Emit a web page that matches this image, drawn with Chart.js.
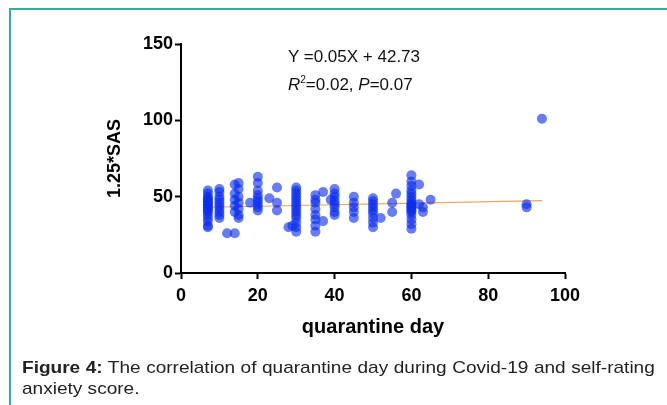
<!DOCTYPE html>
<html>
<head>
<meta charset="utf-8">
<script src="https://cdn.jsdelivr.net/npm/chart.js@4/dist/chart.umd.min.js"></script>
<style>
  html, body { margin: 0; padding: 0; background: #fff; }
  body { width: 667px; height: 405px; position: relative; overflow: hidden; font-family: "Liberation Sans", Arial, Helvetica, sans-serif; }
  #myChart { position: absolute; left: 0; top: 0; }
  .frame { position: absolute; left: 9px; top: 8px; width: 700px; height: 420px; border-top: 2px solid #2bb19d; border-left: 2px solid #2bb19d; }
  .note { position: absolute; left: 288px; font-size: 17px; line-height: 20px; color: #111; white-space: nowrap; }
  .note sup { font-size: 10px; line-height: 0; }
  .caption { position: absolute; left: 22px; top: 357px; width: 565px; font-size: 17px; line-height: 21px; color: #222;
             text-align: justify; transform: scaleX(1.12); transform-origin: 0 0; }
</style>
</head>
<body>
<div class="frame"></div>
<canvas id="myChart" width="667" height="405"></canvas>
<div class="note" style="top:47px">Y =0.05X + 42.73</div>
<div class="note" style="top:75px"><i>R</i><sup>2</sup>=0.02, <i>P</i>=0.07</div>
<div class="caption"><b>Figure 4:</b> The correlation of quarantine day during Covid-19 and self-rating anxiety score.</div>
<script>
// data block: one entry per respondent
const quarantineDay = [
  7, 7, 7, 7, 7, 7, 7, 7, 7, 7, 7, 7, 7, 7, 7, 7, 7, 7,
  10, 10, 10, 10, 10, 10, 10, 10, 10, 10,
  12, 14,
  14, 14, 14, 14, 14, 15, 15, 15, 15, 15, 15, 15,
  18,
  20, 20, 20, 20, 20, 20, 20, 20, 20,
  23, 25, 25, 25, 28, 29,
  30, 30, 30, 30, 30, 30, 30, 30, 30, 30, 30, 30, 30, 30,
  35, 35, 35, 35, 35, 35, 35, 35,
  37, 37,
  39, 40, 40, 40, 40, 40, 40, 40, 40,
  45, 45, 45, 45, 45,
  50, 50, 50, 50, 50, 50, 50, 50, 50,
  52, 55, 55, 56,
  60, 60, 60, 60, 60, 60, 60, 60, 60, 60, 60, 60, 60, 60, 60, 60, 60, 60,
  62, 62, 63, 63, 65,
  90, 90,
  94
];
const sasScore = [
  54, 52, 50, 49, 48, 47, 46, 45, 44, 43, 42, 41, 40, 38, 36, 34, 31, 30,
  55, 53, 50, 48, 46, 44, 42, 40, 38, 36,
  26, 26,
  58, 52, 48, 44, 40, 59, 55, 50, 46, 42, 38, 36,
  46,
  63, 59, 54, 51, 49, 47, 45, 43, 41,
  49, 56, 46, 41, 30, 31,
  56, 54, 52, 50, 48, 46, 44, 42, 40, 38, 36, 33, 30, 27,
  51, 48, 46, 42, 38, 35, 31, 27,
  53, 34,
  48, 55, 52, 50, 47, 45, 43, 40, 38,
  50, 46, 43, 40, 36,
  49, 47, 45, 43, 41, 39, 36, 33, 30,
  36, 46, 40, 52,
  64, 60, 57, 54, 52, 50, 48, 46, 45, 44, 43, 42, 41, 40, 38, 35, 32, 29,
  58, 45, 43, 40, 48,
  45, 43,
  101
];
// fitted line end points (Y = 0.05X + 42.73)
const fitDay = [7, 94];
const fitScore = [43.08, 47.43];

const xTicks = [0, 20, 40, 60, 80, 100];
const yTicks = [0, 50, 100, 150];

const points = quarantineDay.map((d, i) => ({ x: d, y: sasScore[i] }));
const fitLine = fitDay.map((d, i) => ({ x: d, y: fitScore[i] }));

const tickFont = { family: "'Liberation Sans', Arial, sans-serif", size: 18, weight: 'bold' };

const config = {
  type: 'scatter',
  data: {
    datasets: [{
      label: '1.25*SAS',
      data: points,
      backgroundColor: 'rgba(10, 45, 240, 0.62)',
      borderWidth: 0,
      pointRadius: 5,
      order: 1
    }, {
      type: 'line',
      label: 'fit',
      data: fitLine,
      borderColor: '#f2a35a',
      borderWidth: 1.2,
      pointRadius: 0,
      fill: false,
      order: 2
    }]
  },
  options: {
    responsive: false,
    animation: false,
    devicePixelRatio: 1,
    layout: { padding: { left: 104, top: 44, right: 102, bottom: 66 } },
    plugins: { legend: { display: false }, tooltip: { enabled: false } },
    scales: {
      x: {
        type: 'linear',
        min: 0, max: 100,
        afterBuildTicks: s => { s.ticks = xTicks.map(v => ({ value: v })); },
        afterFit: s => { s.height = 66; },
        grid: { drawOnChartArea: false, drawTicks: true, tickLength: 6, tickWidth: 2, tickColor: '#000' },
        border: { display: true, color: '#000', width: 2 },
        ticks: { color: '#000', font: tickFont, padding: 6, maxRotation: 0 },
        title: { display: true, text: 'quarantine day', color: '#000', padding: 0,
                 font: { family: "'Liberation Sans', Arial, sans-serif", size: 20, weight: 'bold' } }
      },
      y: {
        type: 'linear',
        min: 0, max: 150,
        afterBuildTicks: s => { s.ticks = yTicks.map(v => ({ value: v })); },
        afterFit: s => { s.width = 77; },
        grid: { drawOnChartArea: false, drawTicks: true, tickLength: 6, tickWidth: 2, tickColor: '#000' },
        border: { display: true, color: '#000', width: 2 },
        ticks: { color: '#000', font: tickFont, padding: 2 },
        title: { display: true, text: '1.25*SAS', color: '#000', padding: 0,
                 font: { family: "'Liberation Sans', Arial, sans-serif", size: 18, weight: 'bold' } }
      }
    }
  }
};

const ctx = document.getElementById('myChart');
const myChart = new Chart(ctx, config);
</script>
</body>
</html>
